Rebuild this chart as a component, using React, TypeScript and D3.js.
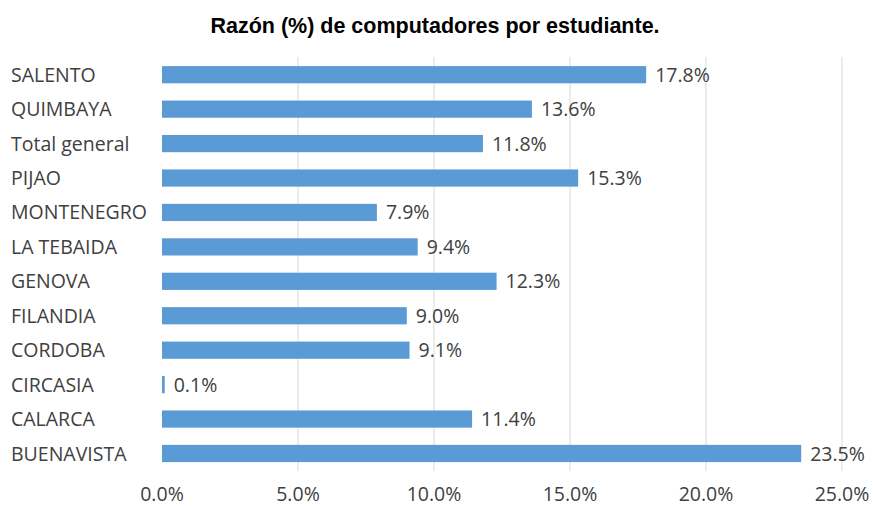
import React from 'react'
import { scaleLinear, scaleBand } from 'd3'

// categories from top to bottom, as in the picture
const categories = ['SALENTO', 'QUIMBAYA', 'Total general', 'PIJAO', 'MONTENEGRO', 'LA TEBAIDA',
  'GENOVA', 'FILANDIA', 'CORDOBA', 'CIRCASIA', 'CALARCA', 'BUENAVISTA']
const values = [17.8, 13.6, 11.8, 15.3, 7.9, 9.4, 12.3, 9.0, 9.1, 0.1, 11.4, 23.5]
const ticks = [0, 5, 10, 15, 20, 25]
const title = 'Razón (%) de computadores por estudiante.'

const W = 873
const H = 508
const font = "'Open Sans', 'Noto Sans', sans-serif"
const fs = 19.5
const textColor = '#404040'

const App = () => {
  const x = scaleLinear().domain([0, 25]).range([162, 842])
  const y = scaleBand().domain(categories).range([57.5, 470.7]).paddingInner(0.5).paddingOuter(0.25)

  return (
    <svg width={W} height={H} style={{ position: 'absolute', left: 0, top: 0, background: '#fff' }}>
      <text x={435} y={33} textAnchor="middle" fontFamily="Arial, 'Liberation Sans', sans-serif"
        fontWeight="bold" fontSize={21.5} fill="#000">{title}</text>

      {/* gridlines */}
      {ticks.slice(1).map(t => (
        <line key={t} x1={x(t)} x2={x(t)} y1={57} y2={471} stroke="#d9d9d9" strokeWidth={1} />
      ))}

      {/* bars */}
      {categories.map((c, i) => (
        <rect key={c} x={x(0)} y={y(c)} width={Math.max(x(values[i]) - x(0), 1.5)}
          height={y.bandwidth()} fill="#5b9bd5" />
      ))}

      {/* value labels */}
      {categories.map((c, i) => (
        <text key={c} x={x(values[i]) + 9} y={(y(c) as number) + y.bandwidth() / 2} dy="0.36em"
          fontFamily={font} fontSize={fs} fill={textColor}>{values[i].toFixed(1)}%</text>
      ))}

      {/* category labels */}
      {categories.map(c => (
        <text key={c} x={11} y={(y(c) as number) + y.bandwidth() / 2} dy="0.36em"
          fontFamily={font} fontSize={fs} fill={textColor}>{c}</text>
      ))}

      {/* x axis tick labels */}
      {ticks.map(t => (
        <text key={t} x={x(t)} y={501} textAnchor="middle"
          fontFamily={font} fontSize={fs} fill={textColor}>{t.toFixed(1)}%</text>
      ))}
    </svg>
  )
}

export default App
